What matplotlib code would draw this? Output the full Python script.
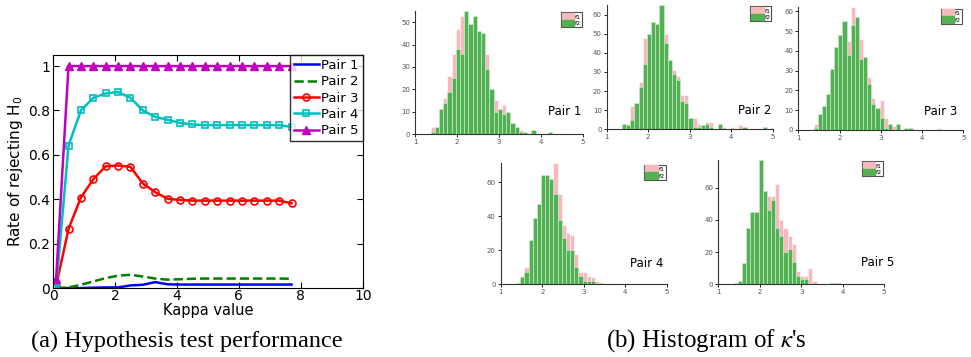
import numpy as np
import matplotlib
matplotlib.use("Agg")
import matplotlib.pyplot as plt
from matplotlib.patches import Patch

# ---- (a) hypothesis test performance ----
kappa = [0.1, 0.5, 0.9, 1.3, 1.7, 2.1, 2.5, 2.9, 3.3, 3.7,
         4.1, 4.5, 4.9, 5.3, 5.7, 6.1, 6.5, 6.9, 7.3, 7.7]
pair1 = [0.0, 0.0, 0.0, 0.002, 0.003, 0.003, 0.012, 0.015, 0.027, 0.017,
         0.016, 0.016, 0.016, 0.016, 0.016, 0.016, 0.016, 0.016, 0.016, 0.016]
pair2 = [0.0, 0.003, 0.015, 0.03, 0.045, 0.056, 0.06, 0.052, 0.043, 0.038,
         0.04, 0.042, 0.043, 0.043, 0.043, 0.043, 0.043, 0.043, 0.043, 0.042]
pair3 = [0.01, 0.266, 0.408, 0.49, 0.549, 0.552, 0.546, 0.471, 0.432, 0.402,
         0.397, 0.394, 0.394, 0.394, 0.394, 0.394, 0.394, 0.394, 0.394, 0.382]
pair4 = [0.0, 0.642, 0.80, 0.857, 0.877, 0.883, 0.857, 0.80, 0.771, 0.758,
         0.744, 0.737, 0.734, 0.734, 0.734, 0.734, 0.734, 0.734, 0.734, 0.726]
pair5 = [0.04, 1, 1, 1, 1, 1, 1, 1, 1, 1,
         1, 1, 1, 1, 1, 1, 1, 1, 1, 1]

# ---- (b) histograms of kappa, bins of width 0.1 centred at 1.4 ... 5.0 ----
bin_centers = np.round(np.arange(1.42, 5.05, 0.1), 2)

p1_f1 = [3, 3, 11, 16, 26, 36, 47, 53, 50, 47, 50, 42, 43, 36, 20, 15, 11, 13, 8, 5,
         3, 2, 1, 0, 0, 0, 0, 0, 0, 0, 0, 0, 0, 0, 0, 0, 0]
p1_f2 = [1, 3, 11, 14, 19, 25, 38, 36, 55, 49, 53, 46, 45, 29, 20, 10, 11, 9, 10, 5,
         3, 1, 1, 0, 2, 0, 0, 0, 1, 0, 0, 0, 0, 0, 0, 0, 0]
p2_f1 = [2, 3, 12, 13, 25, 48, 48, 52, 50, 60, 50, 35, 31, 28, 18, 18, 6, 6, 3, 2,
         4, 4, 0, 3, 1, 0, 1, 0, 2, 0, 0, 0, 0, 0, 0, 0, 1]
p2_f2 = [3, 2, 5, 14, 22, 34, 50, 56, 55, 65, 45, 36, 29, 26, 15, 14, 6, 1, 1, 2,
         3, 1, 0, 3, 0, 0, 0, 0, 0, 1, 0, 0, 0, 0, 1, 0, 0]
p3_f1 = [3, 8, 12, 17, 30, 40, 48, 50, 45, 62, 52, 46, 35, 27, 16, 10, 15, 6, 2, 2,
         1, 0, 0, 0, 0, 0, 0, 0, 0, 0, 1, 0, 0, 0, 0, 0, 0]
p3_f2 = [1, 8, 12, 18, 31, 42, 48, 55, 38, 53, 57, 36, 37, 23, 13, 11, 6, 1, 3, 0,
         3, 0, 1, 1, 0, 0, 0, 0, 0, 0, 0, 0, 0, 0, 0, 0, 0]
p4_f1 = [0, 5, 10, 24, 36, 47, 58, 60, 60, 71, 53, 35, 30, 29, 18, 7, 7, 5, 4, 2,
         0, 0, 0, 1, 0, 0, 1, 0, 0, 0, 0, 0, 0, 0, 0, 0, 0]
p4_f2 = [1, 4, 7, 26, 39, 47, 64, 64, 62, 53, 38, 27, 20, 20, 10, 5, 2, 2, 2, 0,
         1, 0, 0, 0, 0, 0, 0, 0, 0, 0, 0, 0, 0, 0, 0, 0, 0]
p5_f1 = [1, 2, 13, 35, 45, 45, 60, 45, 55, 55, 62, 40, 35, 30, 25, 8, 5, 5, 10, 2,
         0, 0, 0, 0, 0, 0, 0, 0, 1, 0, 1, 0, 0, 0, 0, 0, 0]
p5_f2 = [1, 2, 13, 35, 45, 45, 77, 58, 46, 52, 35, 30, 20, 22, 14, 5, 3, 3, 0, 0,
         0, 0, 0, 1, 1, 1, 0, 0, 0, 0, 0, 0, 0, 0, 0, 0, 0]

hist_data = [("Pair 1", p1_f1, p1_f2, 55, [0, 10, 20, 30, 40, 50]),
             ("Pair 2", p2_f1, p2_f2, 65, [0, 10, 20, 30, 40, 50, 60]),
             ("Pair 3", p3_f1, p3_f2, 62, [0, 10, 20, 30, 40, 50, 60]),
             ("Pair 4", p4_f1, p4_f2, 71, [0, 20, 40, 60]),
             ("Pair 5", p5_f1, p5_f2, 77, [0, 20, 40, 60])]

# axes rectangles in figure fractions (from pixel layout of 971x357)
hist_rects = [[0.4274, 0.6246, 0.173, 0.3445],
              [0.6248, 0.6378, 0.171, 0.348],
              [0.8221, 0.6359, 0.170, 0.3437],
              [0.5157, 0.2036, 0.171, 0.339],
              [0.7398, 0.2036, 0.1707, 0.348]]
label_pos = [(0.79, 0.13), (0.79, 0.10), (0.76, 0.10), (0.78, 0.12), (0.86, 0.125)]

pink = "#f7b9bb"
green = "#52b152"

fig = plt.figure(figsize=(9.71, 3.57), dpi=100)

ax = fig.add_axes([0.0546, 0.193, 0.319, 0.653])
ax.plot(kappa, pair1, color="#0000ff", lw=1.8, label="Pair 1")
ax.plot(kappa, pair2, color="#008000", lw=1.8, ls="--", label="Pair 2")
ax.plot(kappa, pair3, color="#ff0000", lw=1.8, marker="o", ms=5, mfc="none", mew=1.2, label="Pair 3")
ax.plot(kappa, pair4, color="#00bfbf", lw=1.8, marker="s", ms=4.5, mfc="none", mew=1.2, label="Pair 4")
ax.plot(kappa, pair5, color="#bf00bf", lw=1.8, marker="^", ms=6, label="Pair 5")
ax.set_xlim(0, 10)
ax.set_ylim(0, 1.05)
ax.set_xticks([0, 2, 4, 6, 8, 10])
ax.set_yticks([0, 0.2, 0.4, 0.6, 0.8, 1])
ax.set_yticklabels(["0", "0.2", "0.4", "0.6", "0.8", "1"])
ax.tick_params(direction="in", top=True, right=True, labelsize=10, length=4, pad=2)
ax.tick_params(axis="x", pad=1)
ax.set_xlabel("Kappa value", fontsize=10.5, labelpad=0)
ax.set_ylabel("Rate of rejecting H$_0$", fontsize=11, labelpad=2)
leg = ax.legend(loc="upper right", fontsize=9.5, borderaxespad=0, fancybox=False,
                handlelength=1.9, labelspacing=0.25, handletextpad=0.2, borderpad=0.3)
leg.get_frame().set_edgecolor("black")
leg.get_frame().set_linewidth(1)

for (name, f1, f2, ytop, yt), rect, lp in zip(hist_data, hist_rects, label_pos):
    h = fig.add_axes(rect)
    h.bar(bin_centers, f1, width=0.1, color=pink, edgecolor="white", linewidth=0.4)
    h.bar(bin_centers, f2, width=0.1, color=green, edgecolor="#d8eed8", linewidth=0.4)
    h.set_xlim(1, 5)
    h.set_ylim(0, ytop)
    h.set_xticks([1, 2, 3, 4, 5])
    h.set_yticks(yt)
    for s in ["top", "right"]:
        h.spines[s].set_visible(False)
    for s in ["left", "bottom"]:
        h.spines[s].set_linewidth(0.8)
        h.spines[s].set_color("#333333")
    h.tick_params(labelsize=5, labelcolor="#555555", length=2, width=0.6, pad=1.5)
    h.text(lp[0], lp[1], name, transform=h.transAxes, fontsize=8.5, ha="left", va="bottom")
    hl = h.legend(handles=[Patch(color=pink), Patch(color=green)], labels=["f1", "f2"],
                  loc="upper right", fontsize=4.5, fancybox=False, borderaxespad=0.2,
                  handlelength=2.0, handleheight=1.2, handletextpad=0.1,
                  labelspacing=0.05, borderpad=0.15)
    hl.get_frame().set_edgecolor("#222222")
    hl.get_frame().set_linewidth(0.8)

fig.text(0.192, 0.045, "(a) Hypothesis test performance", fontsize=17.5,
         family="Liberation Serif", ha="center", va="center")
fig.text(0.727, 0.045, "(b) Histogram of $\\kappa$'s", fontsize=18,
         family="Liberation Serif", ha="center", va="center", math_fontfamily="stix")

fig.savefig("out.png", dpi=100)
